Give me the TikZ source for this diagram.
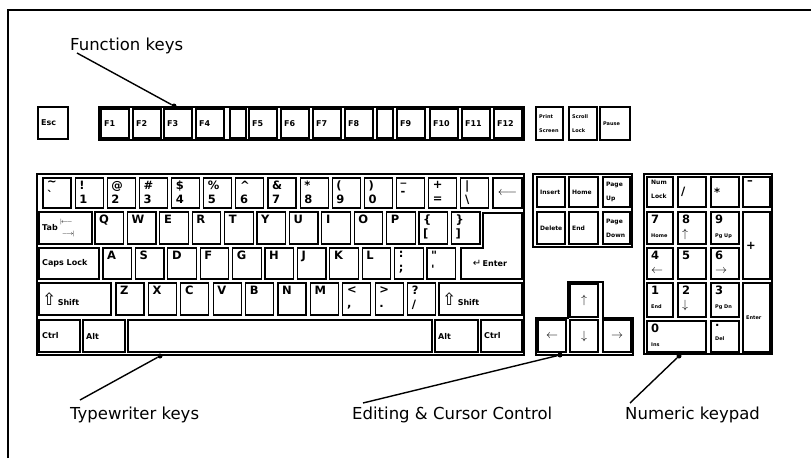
\documentclass[tikz,border=0pt]{standalone}
\usepackage{fontspec}
\setmainfont{DejaVu Sans}
\usepackage{tikz}

% key label sizes
\newcommand{\kbig}{\fontsize{11.5}{14}\selectfont}
\newcommand{\ksmall}{\fontsize{8}{9}\selectfont}
\newcommand{\kmini}{\fontsize{6}{7}\selectfont}
\newcommand{\ktiny}{\fontsize{5}{6}\selectfont}

\tikzset{
    keybox/.style={draw, line width=1.2pt, fill=white, anchor=north west,
        inner sep=0pt, outer sep=0pt},
    keytxt/.style={inner sep=0pt, align=left, font=\bfseries\kbig},
    lbl north west/.style={xshift=4pt, yshift=-3pt},
    lbl west/.style={xshift=3pt},
    lbl center/.style={},
    block/.style={draw, line width=2.6pt},
    callout/.style={font=\fontsize{16.5}{18}\selectfont, inner sep=0pt, anchor=base west},
    lead/.style={line width=1.4pt},
    dot/.style={circle, fill, inner sep=0pt, minimum size=5pt}
}

% a key: [anchor of its label]{name}{x1}{y1}{x2}{y2}{label}
\newcommand{\kb}[7][north west]{%
    \node [keybox, minimum width=#5-#3, minimum height=#6-#4] (#2) at (#3,#4) {};
    \node [keytxt, lbl #1, anchor=#1] (#2-t) at (#2.#1) {#7};}

\begin{document}
\begin{tikzpicture}[x=1pt,y=-1pt]
    \useasboundingbox (0,0) rectangle (811,458);
    % Frame:
    \draw [line width=2pt] (8,458) -- (8,10) -- (811,10);

    \begin{scope}
    % Top row:
    % Esc, the function key strip and the three keys at the right
    \kb[west]{esc}{38}{107}{68}{139}{\ksmall Esc}
    \draw [block] (99,107) rectangle (524,140);
    \foreach \kl/\xa in {1/101,2/133,3/164,4/196,5/249,6/281,7/313,8/345,
                         9/397,10/430,11/462,12/494}
        {\kb[west]{f\kl}{\xa}{109}{\xa+28}{138}{\ksmall F\kl}}
    \kb{fgap1}{230}{109}{246}{138}{}
    \kb{fgap2}{377}{109}{393}{138}{}
    \kb[west]{prtsc}{536}{107}{563}{140}{\ktiny Print\\\ktiny Screen}
    \kb[west]{scrlk}{569}{107}{597}{140}{\ktiny Scroll\\\ktiny Lock}
    \kb[west]{pause}{600}{107}{630}{140}{\ktiny Pause}
    \end{scope}

    \begin{scope}
    % Typewriter keys:
    \draw [block] (37,174) rectangle (524,355);
    % row 1
    \foreach \kl [count=\i from 0] in {{\textasciitilde\\\textasciigrave},{!\\1},{@\\2},
            {\#\\3},{\$\\4},{\%\\5},{\textasciicircum\\6},{\&\\7},{*\\8},{(\\9},
            {)\\0},{\_\\-},{+\\=},{|\\\textbackslash}}
        {\pgfmathsetmacro\xa{43+32.14*\i}
         \kb{ra\i}{\xa}{178}{\xa+28}{208}{\kl}}
    \kb[center]{bksp}{493}{178}{522}{208}{$\longleftarrow$}
    % row 2
    \kb[west]{tab}{39}{212}{92}{244}{\ksmall Tab\hspace{2pt}$\vcenter{\hbox{$\scriptstyle|\!\longleftarrow$}
        \vskip3pt\hbox{$\scriptstyle\;\longrightarrow\!|$}}$}
    \foreach \kl [count=\i from 0] in {Q,W,E,R,T,Y,U,I,O,P,{\{\\{[}},{\}\\{]}}}
        {\pgfmathsetmacro\xa{95+32.4*\i}
         \kb{rb\i}{\xa}{212}{\xa+28.5}{244}{\kl}}
    % row 3
    \kb[west]{caps}{39}{248}{99}{279}{\ksmall Caps Lock}
    \foreach \kl [count=\i from 0] in {A,S,D,F,G,H,J,K,L,{:\\;},
            {\textquotedbl\\\textquotesingle}}
        {\pgfmathsetmacro\xa{103+32.4*\i}
         \kb{rc\i}{\xa}{248}{\xa+28.5}{279}{\kl}}
    % Enter is L-shaped:
    \draw [line width=1.2pt, fill=white] (483,213) -- (522,213) -- (522,279)
        -- (461,279) -- (461,248) -- (483,248) -- cycle;
    \node [keytxt] (enter-t) at (490,263) {{\fontsize{10}{10}\selectfont\mdseries ↵}\ksmall\,Enter};
    % row 4
    \kb[west]{lshift}{39}{283}{111}{315}{{\fontsize{17}{17}\selectfont\mdseries ⇧}\ksmall\,Shift}
    \foreach \kl [count=\i from 0] in {Z,X,C,V,B,N,M,{<\\,},{>\\.},{?\\/}}
        {\pgfmathsetmacro\xa{116+32.4*\i}
         \kb{rd\i}{\xa}{283}{\xa+28}{315}{\kl}}
    \kb[west]{rshift}{439}{283}{522}{315}{{\fontsize{17}{17}\selectfont\mdseries ⇧}\ksmall\,Shift}
    % row 5
    \kb[west]{lctrl}{39}{320}{80}{352}{\ksmall Ctrl}
    \kb[west]{lalt}{83}{320}{125}{352}{\ksmall Alt}
    \kb{space}{128}{320}{432}{352}{}
    \kb[west]{ralt}{435}{320}{478}{352}{\ksmall Alt}
    \kb[west]{rctrl}{481}{320}{522}{352}{\ksmall Ctrl}
    \end{scope}

    \begin{scope}
    % Editing keys:
    \draw [block] (533,174) rectangle (632,247);
    \kb[west]{ins}{537}{177}{565}{207}{\kmini Insert}
    \kb[west]{home}{569}{177}{598}{207}{\kmini Home}
    \kb[west]{pgup}{603}{177}{630}{207}{\kmini Page\\\kmini Up}
    \kb[west]{delk}{537}{212}{565}{244}{\kmini Delete}
    \kb[west]{endk}{569}{212}{598}{244}{\kmini End}
    \kb[west]{pgdn}{603}{212}{630}{244}{\kmini Page\\\kmini Down}
    % Cursor keys:
    \draw [block] (568,282) -- (603,282) -- (603,318) -- (633,318) -- (633,355)
        -- (536,355) -- (536,318) -- (568,318) -- cycle;
    \kb[center]{aup}{570}{284}{598}{317}{$\uparrow$}
    \kb[center]{aleft}{538}{320}{566}{352}{$\leftarrow$}
    \kb[center]{adown}{570}{320}{598}{352}{$\downarrow$}
    \kb[center]{aright}{603}{320}{631}{352}{$\rightarrow$}
    \end{scope}

    \begin{scope}
    % Numeric keypad:
    \draw [block] (644,174) rectangle (772,354);
    \kb{numlk}{647}{177}{673}{207}{\kmini Num\\\kmini Lock}
    \kb[west]{kdiv}{678}{177}{706}{207}{/}
    \kb[west]{kmul}{711}{177}{739}{207}{*}
    \kb{kmin}{743}{177}{770}{207}{\textendash}
    \kb{k7}{647}{212}{673}{244}{7\\\ktiny Home}
    \kb{k8}{678}{212}{706}{244}{8\\$\uparrow$}
    \kb{k9}{711}{212}{739}{244}{9\\\ktiny Pg Up}
    \kb[west]{kplus}{743}{212}{770}{279}{+}
    \kb{k4}{647}{248}{673}{279}{4\\$\leftarrow$}
    \kb{k5}{678}{248}{706}{279}{5}
    \kb{k6}{711}{248}{739}{279}{6\\$\rightarrow$}
    \kb{k1}{647}{283}{673}{317}{1\\\ktiny End}
    \kb{k2}{678}{283}{706}{317}{2\\$\downarrow$}
    \kb{k3}{711}{283}{739}{317}{3\\\ktiny Pg Dn}
    \kb[west]{kent}{743}{283}{770}{352}{\ktiny Enter}
    \kb{k0}{647}{321}{706}{352}{0\\\ktiny Ins}
    \kb{kdot}{711}{321}{739}{352}{.\\\ktiny Del}
    \end{scope}

    % Callouts:
    % each label is tied to its group by a line ending in a dot
    \node [callout] (fklbl) at (70,50) {Function keys};
    \node [dot] (fkdot) at (174,106) {};
    \coordinate (fkend) at (77,53);
    \draw [lead] (fkend) -- (fkdot);

    \node [callout] (twlbl) at (70,419) {Typewriter keys};
    \node [dot] (twdot) at (160,356) {};
    \coordinate (twend) at (80,400);
    \draw [lead] (twend) -- (twdot);

    \node [callout] (edlbl) at (352,419) {Editing \& Cursor Control};
    \node [dot] (eddot) at (560,355) {};
    \coordinate (edend) at (363,403);
    \draw [lead] (edend) -- (eddot);

    \node [callout] (nplbl) at (625,419) {Numeric keypad};
    \node [dot] (npdot) at (679,356) {};
    \coordinate (npend) at (630,403);
    \draw [lead] (npend) -- (npdot);
\end{tikzpicture}
\end{document}
